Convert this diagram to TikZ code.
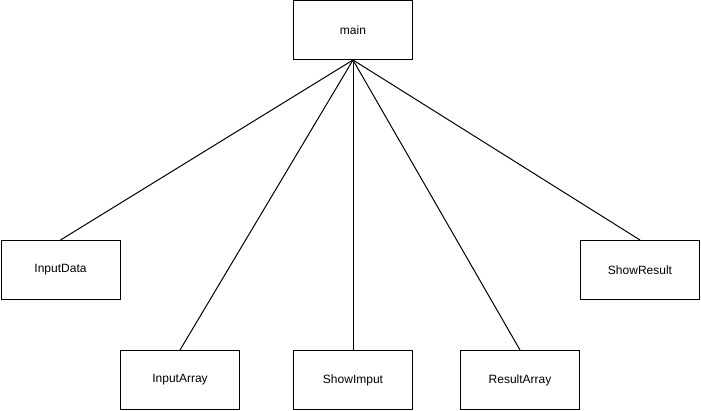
\documentclass[tikz,border=0pt]{standalone}
\usepackage{fontspec}
\setmainfont{Liberation Sans}
\begin{document}
\begin{tikzpicture}[x=1pt,y=-1pt,
	box/.style={draw,line width=1pt,minimum width=119pt,minimum height=59pt,inner sep=0pt,font=\fontsize{12}{14}\selectfont},
	link/.style={line width=1pt}]
	\useasboundingbox (0,0) rectangle (701,411);
	\begin{scope}

	\node[box] (main) at (353,30) {main};
	\node[box] (inputdata) at (60.5,270) {InputData};
	\node[box] (inputarray) at (180,380) {InputArray};
	\node[box] (showimput) at (353,380) {ShowImput};
	\node[box] (resultarray) at (520,380) {ResultArray};
	\node[box] (showresult) at (640,270) {ShowResult};
	% links from main
	\draw[link] (main.south) -- (inputdata.north);
	\draw[link] (main.south) -- (inputarray.north);
	\draw[link] (main.south) -- (showimput.north);
	\draw[link] (main.south) -- (resultarray.north);
	\draw[link] (main.south) -- (showresult.north);
	\end{scope}
	\end{tikzpicture}
\end{document}
